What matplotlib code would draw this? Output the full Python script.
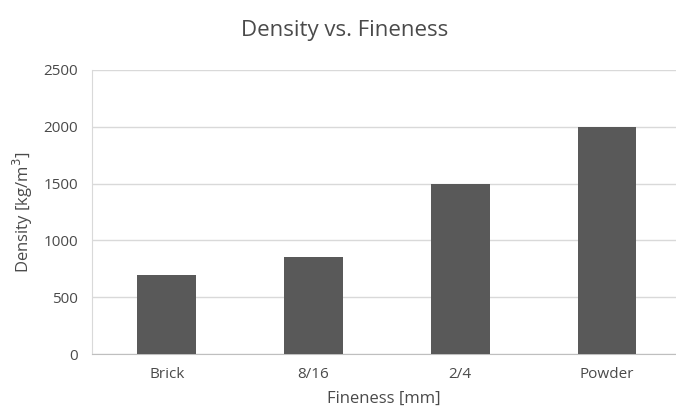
import matplotlib

matplotlib.use("Agg")
import matplotlib.pyplot as plt

categories = ["Brick", "8/16", "2/4", "Powder"]
density = [700, 850, 1500, 2000]
yticks = [0, 500, 1000, 1500, 2000, 2500]

plt.rcParams["font.family"] = ["Open Sans", "DejaVu Sans"]
TEXT = "#4a4a4a"

fig = plt.figure(figsize=(6.76, 4.19), dpi=100)
ax = fig.add_axes([0.136, 0.155, 0.864, 0.678])

x = range(len(categories))
ax.bar(x, density, width=0.4, color="#595959", zorder=3)

ax.set_xlim(-0.51, 3.47)
ax.set_ylim(0, 2500)
ax.set_yticks(yticks)
ax.set_xticks(list(x))
ax.set_xticklabels(categories)
ax.yaxis.grid(True, color="#d9d9d9", lw=1, zorder=0)
ax.tick_params(length=0, colors=TEXT, labelsize=11)
ax.tick_params(axis="x", pad=9)
ax.tick_params(axis="y", pad=10)

for s in ["top", "right"]:
    ax.spines[s].set_visible(False)
ax.spines["left"].set_color("#d9d9d9")
ax.spines["bottom"].set_color("#bfbfbf")

ax.set_ylabel("Density [kg/m$^3$]", color=TEXT, fontsize=12, labelpad=6)
ax.set_xlabel("Fineness [mm]", color=TEXT, fontsize=12, labelpad=7)
fig.text(0.51, 0.928, "Density vs. Fineness", ha="center", va="center",
         color=TEXT, fontsize=16)

fig.savefig("out.png", dpi=100)
